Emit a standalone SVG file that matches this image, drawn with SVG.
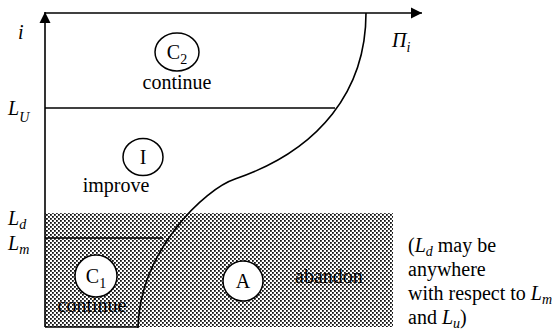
<svg xmlns="http://www.w3.org/2000/svg" width="558" height="333" viewBox="0 0 558 333">
<style>
text{font-family:"Times New Roman",Times,"Liberation Serif",Tinos,"DejaVu Serif",serif;font-size:20px;fill:#000}
.it{font-style:italic}
.sub{font-size:14px}
.ln{stroke:#000;stroke-width:1.6;fill:none}
.circ{fill:#fff;stroke:#000;stroke-width:1.5}
</style>
<defs>
<pattern id="dots" width="4" height="4" patternUnits="userSpaceOnUse">
<rect x="0" y="0" width="1.8" height="1.8" fill="#111"/>
<rect x="2" y="2" width="1.8" height="1.8" fill="#111"/>
</pattern>
<marker id="arr" markerUnits="userSpaceOnUse" markerWidth="12" markerHeight="12" refX="11" refY="6" orient="auto">
<path d="M0,0.5 L11,6 L0,11.5 z" fill="#000"/>
</marker>
</defs>
<rect id="abandon-region" x="45" y="213" width="348" height="114" fill="url(#dots)"/>
<g id="connectors">
<line class="ln" x1="45" y1="327" x2="45" y2="12" marker-end="url(#arr)"/>
<line class="ln" x1="45" y1="13" x2="422" y2="13" marker-end="url(#arr)"/>
<path class="ln" d="M366,13 C366,90 320,150 235,179 C205,189 140,250 138,328"/>
<line class="ln" x1="45" y1="108" x2="335" y2="108"/>
<line class="ln" x1="45" y1="238" x2="163" y2="238"/>
<line class="ln" x1="45" y1="327" x2="138" y2="327"/>
</g>
<g id="axis-labels">
<text class="it" x="18" y="39">i</text>
<text class="it" x="392" y="47">Π<tspan class="sub" dy="5">i</tspan></text>
<text class="it" x="8" y="115">L<tspan class="sub" dy="7">U</tspan></text>
<text class="it" x="8" y="225">L<tspan class="sub" dy="4">d</tspan></text>
<text class="it" x="8" y="250">L<tspan class="sub" dy="4">m</tspan></text>
</g>
<g id="C2">
<ellipse class="circ" cx="177" cy="52" rx="22" ry="19"/>
<text x="177" y="59" text-anchor="middle">C<tspan class="sub" dy="5">2</tspan></text>
<text x="177" y="89" text-anchor="middle">continue</text>
</g>
<g id="I">
<ellipse class="circ" cx="143" cy="157" rx="20" ry="18.5"/>
<text x="143" y="164" text-anchor="middle">I</text>
<text x="116" y="192" text-anchor="middle">improve</text>
</g>
<g id="C1">
<circle class="circ" cx="96" cy="276" r="21"/>
<text x="96" y="283" text-anchor="middle">C<tspan class="sub" dy="5">1</tspan></text>
<text x="92" y="312" text-anchor="middle">continue</text>
</g>
<g id="A">
<circle class="circ" cx="243" cy="281" r="20"/>
<text x="243" y="288" text-anchor="middle">A</text>
<text x="329" y="283" text-anchor="middle">abandon</text>
</g>
<g id="note">
<text x="408" y="252">(<tspan class="it">L</tspan><tspan class="it sub" dy="4">d</tspan><tspan dy="-4"> may be</tspan></text>
<text x="408" y="276">anywhere</text>
<text x="408" y="300">with respect to <tspan class="it">L</tspan><tspan class="it sub" dy="4">m</tspan></text>
<text x="408" y="324">and <tspan class="it">L</tspan><tspan class="it sub" dy="4">u</tspan><tspan dy="-4">)</tspan></text>
</g>
</svg>
